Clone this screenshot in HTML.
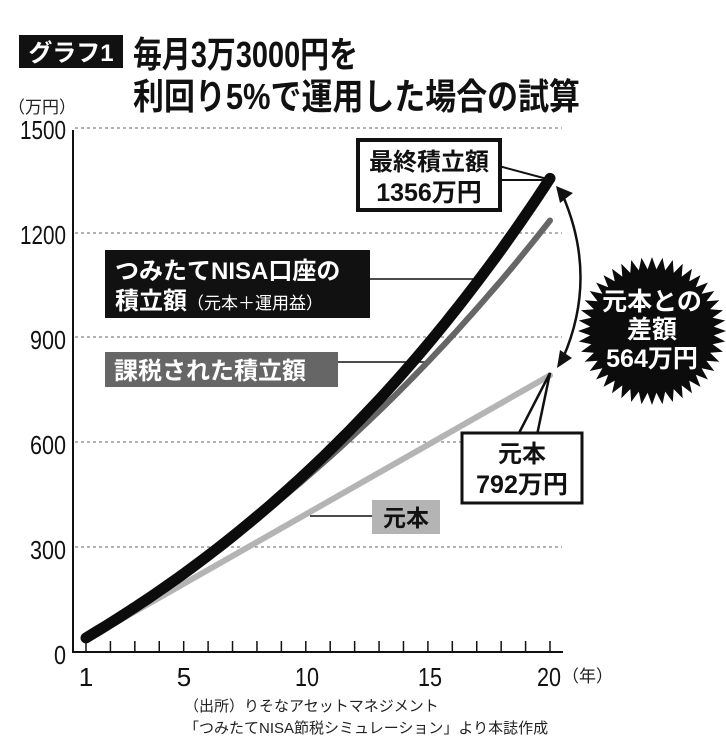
<!DOCTYPE html>
<html><head><meta charset="utf-8">
<style>
html,body{margin:0;padding:0;background:#fff;}
body{width:726px;height:750px;overflow:hidden;font-family:"Liberation Sans","Noto Sans CJK JP",sans-serif;}
</style></head>
<body>
<svg id="s" width="726" height="750" viewBox="0 0 726 750" xmlns="http://www.w3.org/2000/svg" font-family="'Liberation Sans','Noto Sans CJK JP',sans-serif">
<rect x="19" y="35" width="104" height="33" fill="#111"/>
<text x="71" y="61" font-size="24" font-weight="bold" fill="#fff" text-anchor="middle">グラフ1</text>
<text x="133" y="67" font-size="36" font-weight="bold" fill="#111" textLength="225" lengthAdjust="spacingAndGlyphs">毎月3万3000円を</text>
<text x="133" y="109" font-size="36" font-weight="bold" fill="#111" textLength="447" lengthAdjust="spacingAndGlyphs">利回り5%で運用した場合の試算</text>
<text x="8" y="113" font-size="17" fill="#222">（万円）</text>
<g font-size="26" fill="#111" text-anchor="end">
<text x="66" y="139" textLength="46" lengthAdjust="spacingAndGlyphs">1500</text>
<text x="66" y="244" textLength="46" lengthAdjust="spacingAndGlyphs">1200</text>
<text x="66" y="349" textLength="36" lengthAdjust="spacingAndGlyphs">900</text>
<text x="66" y="454" textLength="36" lengthAdjust="spacingAndGlyphs">600</text>
<text x="66" y="559" textLength="36" lengthAdjust="spacingAndGlyphs">300</text>
<text x="66" y="664" textLength="12" lengthAdjust="spacingAndGlyphs">0</text>
</g>
<g stroke="#666" stroke-width="1" stroke-dasharray="3,3">
<line x1="75" y1="128" x2="562" y2="128"/>
<line x1="75" y1="233" x2="562" y2="233"/>
<line x1="75" y1="337" x2="562" y2="337"/>
<line x1="75" y1="442" x2="562" y2="442"/>
<line x1="75" y1="547" x2="562" y2="547"/>
</g>
<line x1="73" y1="130" x2="73" y2="653" stroke="#111" stroke-width="2"/>
<line x1="72" y1="652" x2="563" y2="652" stroke="#111" stroke-width="2"/>
<g id="ticks" stroke="#111" stroke-width="1.5"></g>
<g font-size="26" fill="#111" text-anchor="middle">
<text x="86" y="686">1</text>
<text x="184" y="686">5</text>
<text x="307" y="686" textLength="24" lengthAdjust="spacingAndGlyphs">10</text>
<text x="430" y="686" textLength="24" lengthAdjust="spacingAndGlyphs">15</text>
<text x="549" y="686" textLength="24" lengthAdjust="spacingAndGlyphs">20</text>
</g>
<text x="562" y="682" font-size="17" fill="#222">（年）</text>
<text x="184" y="711" font-size="15" fill="#222">（出所）りそなアセットマネジメント</text>
<text x="184" y="733" font-size="15" fill="#222">「つみたてNISA節税シミュレーション」より本誌作成</text>

<line x1="360" y1="279" x2="480" y2="279" stroke="#111" stroke-width="1.5"/>
<line x1="330" y1="362" x2="425" y2="362" stroke="#111" stroke-width="1.5"/>
<line x1="310" y1="516" x2="372" y2="516" stroke="#111" stroke-width="1.5"/>

<path id="pL" fill="none" stroke="#b4b4b4" stroke-width="6" stroke-linecap="round"/>
<path id="pG" fill="none" stroke="#666" stroke-width="6" stroke-linecap="round"/>
<path id="pB" fill="none" stroke="#0c0c0c" stroke-width="11" stroke-linecap="round"/>

<polyline points="495,165 551,180 495,180" fill="#fff" stroke="#111" stroke-width="2"/>
<rect x="358" y="140" width="142" height="70" fill="#fff" stroke="#111" stroke-width="4"/>
<text x="429" y="170" font-size="24" font-weight="bold" text-anchor="middle" fill="#111">最終積立額</text>
<text x="429" y="201" font-size="25" font-weight="bold" text-anchor="middle" fill="#111">1356万円</text>

<polyline points="518,435 550,373 537,435" fill="#fff" stroke="#111" stroke-width="2.5"/>
<rect x="462" y="433" width="120" height="70" fill="#fff" stroke="#111" stroke-width="3"/>
<text x="522" y="462" font-size="24" font-weight="bold" text-anchor="middle" fill="#111">元本</text>
<text x="522" y="493" font-size="25" font-weight="bold" text-anchor="middle" fill="#111">792万円</text>

<rect x="105" y="250" width="265" height="68" fill="#111"/>
<text x="115" y="279" font-size="24" font-weight="bold" fill="#fff">つみたてNISA口座の</text>
<text x="115" y="309" font-size="24" font-weight="bold" fill="#fff">積立額<tspan font-size="17" font-weight="normal">（元本＋運用益）</tspan></text>

<rect x="105" y="352" width="233" height="35" fill="#666"/>
<text x="114" y="379" font-size="24" font-weight="bold" fill="#fff">課税された積立額</text>

<rect x="372" y="500" width="68" height="34" fill="#b4b4b4"/>
<text x="406" y="526" font-size="23" font-weight="bold" fill="#111" text-anchor="middle">元本</text>

<path d="M563,196 Q598,278 563,358" fill="none" stroke="#111" stroke-width="2.5"/>
<polygon points="556,186 573,193 560,203" fill="#111"/>
<polygon points="557,368 572,358 560,350" fill="#111"/>

<polygon id="star" fill="#0c0c0c"/>
<text x="652" y="310" font-size="25" font-weight="bold" fill="#fff" text-anchor="middle">元本との</text>
<text x="652" y="338" font-size="25" font-weight="bold" fill="#fff" text-anchor="middle">差額</text>
<text x="652" y="367" font-size="25" font-weight="bold" fill="#fff" text-anchor="middle">564万円</text>
</svg>
<script>
var X=function(n){return 86+(n-1)*(464/19);};
var Y=function(v){return 652-v*(524/1500);};
function path(f){var d="";for(var n=1;n<=20;n+=0.25){d+=(n==1?"M":"L")+X(n).toFixed(1)+","+Y(f(n)).toFixed(1);}return d;}
document.getElementById("pB").setAttribute("d",path(function(n){return 790.7*(Math.pow(1.0512,n)-1);}));
document.getElementById("pG").setAttribute("d",path(function(n){return 1037*(Math.pow(1.04,n)-1);}));
document.getElementById("pL").setAttribute("d","M"+X(1)+","+Y(36)+"L"+X(20)+","+Y(792));
var t=document.getElementById("ticks"),h="";
for(var n=1;n<=20;n++){h+='<line x1="'+X(n)+'" y1="641" x2="'+X(n)+'" y2="652"/>';}
t.innerHTML=h;
var p=[],N=44;for(var i=0;i<2*N;i++){var a=i*Math.PI/N,r=i%2?62:74;p.push((652+r*Math.cos(a)).toFixed(1)+","+(331+r*Math.sin(a)).toFixed(1));}
document.getElementById("star").setAttribute("points",p.join(" "));
</script>
</body></html>
